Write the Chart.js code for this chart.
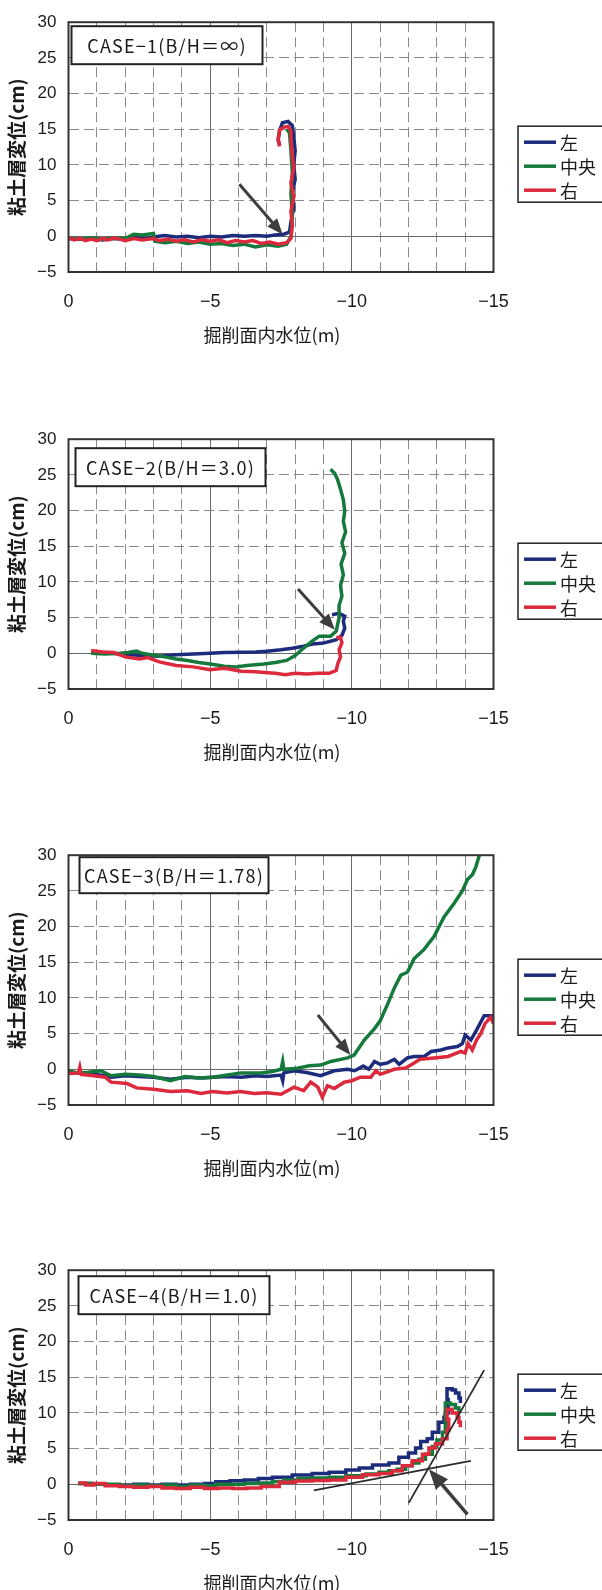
<!DOCTYPE html>
<html>
<head>
<meta charset="utf-8">
<script src="https://cdn.jsdelivr.net/npm/chart.js@4.4.1/dist/chart.umd.min.js"></script>
<style>
  html, body { margin: 0; padding: 0; background: #fff; overflow: hidden; }
  .box { position: absolute; left: 0; width: 602px; height: 350px; }
</style>
</head>
<body>
<div class="box" style="top:0px"><canvas id="c1" width="602" height="350"></canvas></div>
<div class="box" style="top:417px"><canvas id="c2" width="602" height="350"></canvas></div>
<div class="box" style="top:833px"><canvas id="c3" width="602" height="350"></canvas></div>
<div class="box" style="top:1248px"><canvas id="c4" width="602" height="350"></canvas></div>
<script>
// series labels / colours
const seriesLabels = ['左', '中央', '右']
const seriesColors = ['#1d2b7c', '#16793c', '#dc2a3c']
const caseTitles = ['CASE−1(B/H＝∞)', 'CASE−2(B/H＝3.0)', 'CASE−3(B/H＝1.78)', 'CASE−4(B/H＝1.0)']
const xTitle = '掘削面内水位(m)'
const yTitle = '粘土層変位(cm)'

// CASE-1 : [water level (m), displacement (cm)]
const c1Left = [[0,-0.3],[-0.4,-0.4],[-0.8,-0.3],[-1.2,-0.5],[-1.6,-0.3],[-2.0,-0.4],[-2.4,-0.2],[-2.8,-0.3],[-3.0,-0.1],[-3.4,0.1],[-3.8,-0.1],[-4.2,0.0],[-4.6,-0.2],[-5.0,0.0],[-5.4,-0.1],[-5.8,0.1],[-6.2,0.0],[-6.6,0.1],[-7.0,0.0],[-7.3,0.2],[-7.6,0.3],[-7.8,0.6],[-7.85,2.0],[-7.95,4.0],[-7.9,6.0],[-8.0,8.0],[-7.95,10.0],[-8.0,12.0],[-7.95,14.0],[-7.9,15.5],[-7.75,16.1],[-7.55,15.9],[-7.45,14.8],[-7.4,13.5],[-7.45,12.8]]
const c1Center = [[0,-0.2],[-0.4,-0.4],[-0.8,-0.2],[-1.2,-0.4],[-1.6,-0.2],[-2.0,-0.3],[-2.3,0.3],[-2.6,0.2],[-3.0,0.4],[-3.05,-0.7],[-3.4,-0.9],[-3.8,-0.7],[-4.2,-1.0],[-4.6,-0.8],[-5.0,-1.1],[-5.4,-1.0],[-5.8,-1.3],[-6.2,-1.1],[-6.6,-1.5],[-7.0,-1.2],[-7.4,-1.4],[-7.7,-1.1],[-7.85,0.0],[-7.9,3.0],[-7.85,6.0],[-7.9,9.0],[-7.85,12.0],[-7.8,14.5],[-7.7,15.0]]
const c1Right = [[0,-0.2],[-0.2,-0.5],[-0.4,-0.3],[-0.6,-0.6],[-0.8,-0.4],[-1.0,-0.6],[-1.2,-0.3],[-1.4,-0.5],[-1.6,-0.2],[-1.8,-0.4],[-2.0,-0.6],[-2.3,-0.3],[-2.6,-0.5],[-3.0,-0.3],[-3.2,-0.6],[-3.5,-0.4],[-3.8,-0.7],[-4.1,-0.5],[-4.4,-0.8],[-4.7,-0.5],[-5.0,-0.7],[-5.3,-0.5],[-5.6,-0.9],[-5.9,-0.6],[-6.2,-0.8],[-6.5,-0.6],[-6.8,-1.0],[-7.1,-0.8],[-7.4,-1.1],[-7.7,-0.9],[-7.85,-0.3],[-7.9,1.5],[-7.85,3.5],[-7.95,5.5],[-7.85,7.5],[-7.95,9.5],[-7.9,11.5],[-7.85,13.5],[-7.85,14.8],[-7.75,15.4],[-7.6,15.3],[-7.45,14.9],[-7.4,13.6],[-7.45,12.6]]
const c1Arrow = [[-6.03,7.3],[-7.56,0.25]]

// CASE-2
const c2Left = [[-0.8,0.0],[-1.3,0.1],[-1.8,-0.1],[-2.2,-0.2],[-2.6,-0.3],[-3.2,-0.4],[-3.8,-0.2],[-4.4,-0.1],[-5.0,0.0],[-5.5,0.1],[-6.1,0.15],[-6.6,0.2],[-7.0,0.3],[-7.5,0.5],[-7.9,0.7],[-8.3,1.0],[-8.6,1.3],[-8.95,1.4],[-9.25,1.7],[-9.45,1.9],[-9.65,2.5],[-9.75,3.5],[-9.7,4.5],[-9.75,5.2],[-9.55,5.6],[-9.3,5.4]]
const c2Center = [[-0.8,0.0],[-1.3,-0.1],[-1.8,0.0],[-2.1,0.1],[-2.4,0.3],[-2.6,0.0],[-2.9,-0.2],[-3.4,-0.5],[-3.8,-0.8],[-4.2,-1.0],[-4.6,-1.3],[-5.0,-1.5],[-5.5,-1.8],[-5.9,-1.9],[-6.3,-1.7],[-6.9,-1.5],[-7.3,-1.3],[-7.7,-1.0],[-8.0,-0.3],[-8.2,0.4],[-8.6,1.7],[-8.85,2.4],[-9.25,2.4],[-9.45,3.1],[-9.55,5.0],[-9.55,6.7],[-9.65,8.0],[-9.6,9.5],[-9.7,11.0],[-9.62,12.5],[-9.75,14.0],[-9.65,15.5],[-9.78,17.0],[-9.7,18.5],[-9.75,19.9],[-9.7,21.5],[-9.6,23.0],[-9.5,24.3],[-9.4,25.2],[-9.25,25.8]]
const c2Right = [[-0.8,0.4],[-1.2,0.2],[-1.6,0.1],[-2.0,-0.5],[-2.5,-0.8],[-2.8,-0.6],[-3.2,-1.2],[-3.8,-1.7],[-4.4,-1.9],[-5.0,-2.3],[-5.5,-2.1],[-6.1,-2.5],[-6.6,-2.6],[-6.9,-2.7],[-7.3,-2.8],[-7.65,-3.0],[-8.0,-2.8],[-8.4,-2.9],[-8.8,-2.8],[-9.2,-2.8],[-9.45,-2.4],[-9.5,-1.5],[-9.6,-0.5],[-9.55,0.5],[-9.65,1.5],[-9.6,2.2],[-9.45,2.2]]
const c2Arrow = [[-8.1,9.0],[-9.4,3.3]]

// CASE-3
const c3Left = [[0,-0.4],[-0.4,-0.5],[-0.9,-0.7],[-1.3,-0.9],[-1.5,-1.1],[-2.0,-0.9],[-2.5,-1.0],[-3.0,-1.1],[-3.6,-1.4],[-4.2,-1.1],[-4.7,-1.2],[-5.1,-1.1],[-5.6,-1.0],[-6.1,-1.1],[-6.6,-0.9],[-7.0,-1.0],[-7.5,-0.8],[-7.56,-1.6],[-7.6,-0.5],[-7.96,-0.2],[-8.4,-0.45],[-8.9,-0.9],[-9.38,-0.2],[-9.85,0.0],[-10.1,-0.2],[-10.4,0.45],[-10.6,0.0],[-10.8,1.1],[-11.0,0.7],[-11.26,0.9],[-11.5,1.4],[-11.67,0.7],[-11.96,1.6],[-12.2,1.8],[-12.55,1.8],[-12.8,2.5],[-13.14,2.7],[-13.4,3.0],[-13.73,3.2],[-13.9,3.6],[-14.0,4.8],[-14.2,4.1],[-14.4,5.5],[-14.67,7.5],[-15,7.5]]
const c3Center = [[0,-0.2],[-0.3,-0.5],[-0.7,-0.4],[-1.15,-0.2],[-1.5,-0.9],[-2.0,-0.7],[-2.5,-0.8],[-3.0,-1.0],[-3.6,-1.6],[-4.1,-1.0],[-4.6,-1.2],[-5.1,-1.1],[-5.6,-0.8],[-6.1,-0.5],[-6.8,-0.5],[-7.2,-0.3],[-7.5,0.0],[-7.56,1.1],[-7.6,0.0],[-8.0,0.1],[-8.5,0.5],[-8.9,0.6],[-9.26,1.1],[-9.85,1.6],[-10.08,2.0],[-10.44,4.1],[-10.8,5.7],[-11.0,6.8],[-11.26,9.1],[-11.5,11.4],[-11.73,13.2],[-11.96,13.6],[-12.2,15.5],[-12.55,16.8],[-12.9,18.6],[-13.26,21.4],[-13.6,23.2],[-13.9,25.0],[-14.08,26.6],[-14.26,27.3],[-14.38,28.4],[-14.5,30.0]]
const c3Right = [[0,-0.6],[-0.35,-0.5],[-0.4,0.3],[-0.45,-0.7],[-0.9,-0.9],[-1.3,-1.1],[-1.5,-1.8],[-2.07,-2.0],[-2.4,-2.6],[-3.0,-2.8],[-3.6,-3.1],[-4.2,-3.0],[-4.67,-3.4],[-5.08,-3.1],[-5.6,-3.3],[-6.07,-3.1],[-6.55,-3.4],[-7.0,-3.3],[-7.5,-3.5],[-7.96,-2.5],[-8.3,-3.0],[-8.55,-1.8],[-8.8,-2.5],[-8.96,-3.9],[-9.14,-2.3],[-9.38,-2.7],[-9.73,-1.8],[-10.0,-1.6],[-10.3,-1.1],[-10.67,-1.1],[-10.85,-0.2],[-11.0,-0.7],[-11.5,0.0],[-11.9,0.2],[-12.2,0.9],[-12.4,1.4],[-12.9,1.6],[-13.4,1.8],[-13.85,2.5],[-14.0,2.3],[-14.1,3.6],[-14.25,2.7],[-14.4,4.1],[-14.55,5.0],[-14.7,6.4],[-14.9,7.3],[-15,6.4]]
const c3Arrow = [[-8.8,7.6],[-9.95,2.0]]

// CASE-4
const c4Left = [[-0.35,0.1],[-0.8,0.0],[-1.3,-0.1],[-1.8,-0.1],[-2.3,0.0],[-2.8,-0.1],[-3.3,0.0],[-3.8,-0.1],[-4.3,0.0],[-4.8,0.1],[-5.2,0.35],[-5.7,0.5],[-6.2,0.6],[-6.7,0.8],[-7.2,1.0],[-7.9,1.3],[-8.6,1.5],[-9.2,1.7],[-9.79,2.0],[-10.26,2.3],[-10.73,2.7],[-11.31,3.0],[-11.66,3.8],[-12.0,4.4],[-12.25,5.1],[-12.43,6.0],[-12.66,6.4],[-12.84,7.3],[-13.07,8.7],[-13.25,9.4],[-13.3,10.0],[-13.4,11.9],[-13.36,13.4],[-13.54,13.2],[-13.66,12.8],[-13.78,12.1],[-13.83,11.4]]
const c4Center = [[-0.35,0.1],[-0.8,0.0],[-1.3,0.0],[-1.8,-0.2],[-2.3,-0.1],[-2.8,-0.2],[-3.3,-0.1],[-3.8,-0.3],[-4.3,-0.1],[-4.8,-0.2],[-5.2,0.0],[-5.7,0.0],[-6.2,0.1],[-6.7,0.2],[-7.2,0.4],[-7.6,0.6],[-8.1,0.8],[-8.6,0.9],[-9.2,1.0],[-9.79,1.2],[-10.5,1.45],[-10.96,1.7],[-11.31,1.9],[-11.6,2.1],[-11.9,2.6],[-12.13,3.0],[-12.37,3.5],[-12.6,4.2],[-12.84,5.3],[-13.0,6.2],[-13.2,7.3],[-13.3,9.1],[-13.3,11.4],[-13.48,11.2],[-13.66,10.7],[-13.78,10.0]]
const c4Right = [[-0.35,0.2],[-0.6,-0.1],[-0.9,0.1],[-1.3,-0.2],[-1.8,-0.3],[-2.3,-0.4],[-2.8,-0.3],[-3.3,-0.5],[-3.8,-0.6],[-4.3,-0.4],[-4.8,-0.6],[-5.3,-0.5],[-5.8,-0.6],[-6.3,-0.5],[-6.8,-0.3],[-7.44,0.3],[-8.0,0.45],[-8.6,0.55],[-9.2,0.6],[-9.79,1.0],[-10.38,1.35],[-10.96,1.5],[-11.43,1.9],[-11.78,2.6],[-12.13,3.3],[-12.49,4.2],[-12.72,5.1],[-12.95,5.7],[-13.2,6.4],[-13.36,7.6],[-13.42,9.1],[-13.36,10.5],[-13.54,10.0],[-13.72,9.4],[-13.78,8.7],[-13.83,8.0]]
const c4TangentA = [[-8.66,-0.85],[-14.2,3.3]]
const c4TangentB = [[-12.01,-2.6],[-14.67,16.0]]
const c4Arrow = [[-14.08,-4.2],[-12.72,2.1]]

const pts = a => a.map(p => ({ x: p[0], y: p[1] }))
const fmt = v => String(v).replace('-', '−')
const cjk = "'Noto Sans CJK JP', sans-serif"
const latin = "'Liberation Sans', Arial, sans-serif"

function drawArrow(ctx, x1, y1, x2, y2, head, width) {
    const a = Math.atan2(y2 - y1, x2 - x1)
    const c = Math.cos(a), s = Math.sin(a)
    ctx.save()
    ctx.strokeStyle = '#3d3d3d'
    ctx.fillStyle = '#3d3d3d'
    ctx.lineWidth = width
    ctx.beginPath()
    ctx.moveTo(x1, y1)
    ctx.lineTo(x2 - c * head * 0.8, y2 - s * head * 0.8)
    ctx.stroke()
    ctx.beginPath()
    ctx.moveTo(x2, y2)
    ctx.lineTo(x2 - head * c + head * 0.4 * s, y2 - head * s - head * 0.4 * c)
    ctx.lineTo(x2 - head * c - head * 0.4 * s, y2 - head * s + head * 0.4 * c)
    ctx.closePath()
    ctx.fill()
    ctx.restore()
}

// arrows, the case label box, the plot frame and the boxed legend
function makeDecor(cfg) {
    return {
        id: 'decor',
        afterDatasetsDraw(chart) {
            const { ctx, scales: { x, y } } = chart
            const arw = cfg.arrow
            drawArrow(ctx, x.getPixelForValue(arw[0][0]), y.getPixelForValue(arw[0][1]),
                x.getPixelForValue(arw[1][0]), y.getPixelForValue(arw[1][1]), cfg.head, cfg.arrowWidth)
        },
        afterDraw(chart) {
            const { ctx, chartArea: a } = chart
            ctx.save()
            // frame
            ctx.strokeStyle = '#333'
            ctx.lineWidth = 2
            ctx.strokeRect(a.left, a.top, a.right - a.left, a.bottom - a.top)
            // case label box
            const bx = a.left + cfg.box[0], by = a.top + cfg.box[1], bw = cfg.box[2], bh = cfg.box[3]
            ctx.fillStyle = '#fff'
            ctx.fillRect(bx, by, bw, bh)
            ctx.lineWidth = 2
            ctx.strokeStyle = '#222'
            ctx.strokeRect(bx, by, bw, bh)
            ctx.fillStyle = '#1a1a1a'
            ctx.font = '18px ' + cjk
            ctx.letterSpacing = '1.2px'
            ctx.textAlign = 'center'
            ctx.textBaseline = 'middle'
            ctx.fillText(cfg.title, bx + bw / 2, by + bh / 2 + 1)
            ctx.letterSpacing = '0px'
            // legend
            const lx = 518, ly = a.top + 104
            ctx.fillStyle = '#fff'
            ctx.fillRect(lx, ly, 100, 76)
            ctx.lineWidth = 1.5
            ctx.strokeStyle = '#222'
            ctx.strokeRect(lx, ly, 100, 76)
            ctx.textAlign = 'left'
            ctx.font = '18px ' + cjk
            seriesLabels.forEach((lab, i) => {
                const iy = ly + 16 + i * 24
                ctx.strokeStyle = seriesColors[i]
                ctx.lineWidth = 3.5
                ctx.beginPath()
                ctx.moveTo(524, iy)
                ctx.lineTo(556, iy)
                ctx.stroke()
                ctx.fillStyle = '#1a1a1a'
                ctx.fillText(lab, 560, iy + 1)
            })
            ctx.restore()
        }
    }
}

function makeChart(id, series, cfg) {
    const datasets = series.map((s, i) => ({
        label: seriesLabels[i],
        data: pts(s),
        showLine: true,
        borderColor: seriesColors[i],
        backgroundColor: seriesColors[i],
        borderWidth: 3.5,
        pointRadius: 0,
        stepped: cfg.stepped || false,
        order: 2 - i
    }))
    ;(cfg.tangents || []).forEach(t => datasets.push({
        label: '',
        data: pts(t),
        showLine: true,
        borderColor: '#2a2a2a',
        borderWidth: 1.8,
        pointRadius: 0,
        order: -1
    }))

    return new Chart(document.getElementById(id), {
        type: 'scatter',
        data: { datasets },
        options: {
            responsive: false,
            animation: false,
            events: [],
            layout: { padding: { top: 15, right: 108.5, left: 0, bottom: 0 } },
            plugins: { legend: { display: false }, tooltip: { enabled: false } },
            scales: {
                x: {
                    type: 'linear',
                    min: -15,
                    max: 0,
                    reverse: true,
                    afterFit: s => { s.height = 78 },
                    grid: {
                        color: c => c.tick && c.tick.value % 5 === 0 ? '#6a6a6a' : '#8a8a8a',
                        lineWidth: 1,
                        drawTicks: false
                    },
                    border: {
                        display: false,
                        dash: c => c.tick && c.tick.value % 5 === 0 ? [] : [10, 5]
                    },
                    ticks: {
                        stepSize: 1,
                        autoSkip: false,
                        maxRotation: 0,
                        padding: 19,
                        color: '#1a1a1a',
                        font: { family: latin, size: 18 },
                        callback: v => v % 5 === 0 ? fmt(v) : ''
                    },
                    title: {
                        display: true,
                        text: xTitle + '\u3000',
                        color: '#1a1a1a',
                        font: { family: cjk, size: 18 },
                        padding: { top: 0, bottom: 4 }
                    }
                },
                y: {
                    min: -5,
                    max: 30,
                    afterFit: s => { s.width = 68.5 },
                    grid: {
                        color: c => c.tick && c.tick.value === 0 ? '#6a6a6a' : '#8a8a8a',
                        lineWidth: 1,
                        drawTicks: false
                    },
                    border: {
                        display: false,
                        dash: c => c.tick && c.tick.value === 0 ? [] : [10, 5]
                    },
                    ticks: {
                        stepSize: 5,
                        padding: 12,
                        color: '#1a1a1a',
                        font: { family: latin, size: 17 },
                        callback: v => fmt(v)
                    },
                    title: {
                        display: true,
                        text: yTitle,
                        color: '#1a1a1a',
                        font: { family: cjk, size: 19, weight: 'bold' },
                        padding: { top: 5, bottom: 0 }
                    }
                }
            }
        },
        plugins: [makeDecor(cfg)]
    })
}

makeChart('c1', [c1Left, c1Center, c1Right], { title: caseTitles[0], box: [3, 4, 191, 38], arrow: c1Arrow, head: 16, arrowWidth: 3 })
makeChart('c2', [c2Left, c2Center, c2Right], { title: caseTitles[1], box: [7, 9, 190, 38], arrow: c2Arrow, head: 16, arrowWidth: 3 })
makeChart('c3', [c3Left, c3Center, c3Right], { title: caseTitles[2], box: [11, 2, 189, 36], arrow: c3Arrow, head: 16, arrowWidth: 3 })
makeChart('c4', [c4Left, c4Center, c4Right], { title: caseTitles[3], box: [10, 6, 191, 38], arrow: c4Arrow, head: 20, arrowWidth: 3.5, stepped: true, tangents: [c4TangentA, c4TangentB] })
</script>
</body>
</html>
